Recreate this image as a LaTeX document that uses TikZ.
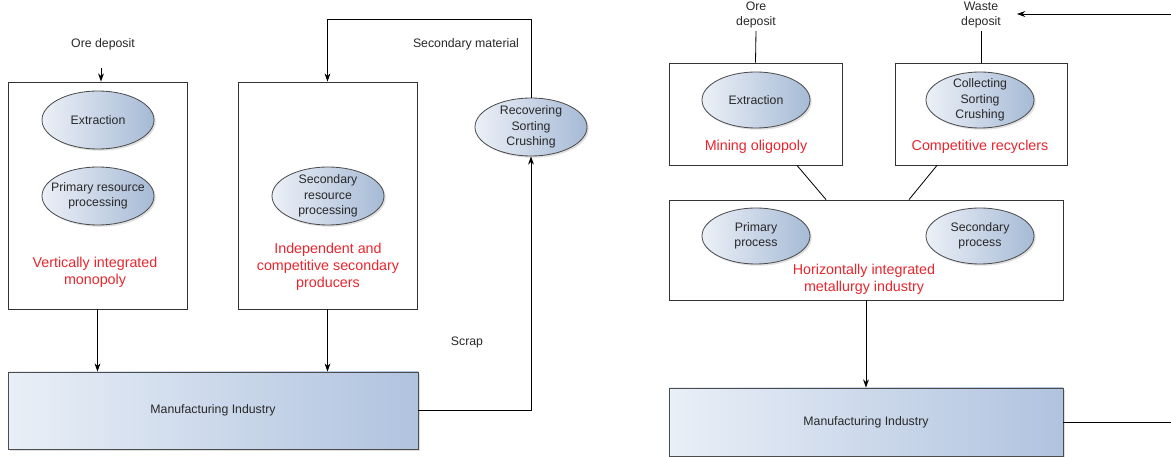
\documentclass[tikz,border=0pt]{standalone}
\usepackage{fontspec}
\setmainfont{Liberation Sans}
\usetikzlibrary{arrows.meta,shapes.geometric,shadows}
\definecolor{inktxt}{RGB}{40,40,40}
\definecolor{redtxt}{RGB}{232,38,46}
\definecolor{blobleft}{RGB}{236,240,247}
\definecolor{blobright}{RGB}{166,186,214}
\definecolor{indleft}{RGB}{233,239,247}
\definecolor{indright}{RGB}{176,195,223}
\begin{document}
\begin{tikzpicture}[x=0.03cm, y=-0.03cm, line width=0.7pt, text=inktxt, font=\fontsize{10.5}{13}\selectfont,
		frame/.style = {draw=black!80, fill=white},
		blob/.style = {ellipse, draw=black!70, left color=blobleft, right color=blobright, drop shadow={opacity=0.25, shadow xshift=1.5pt, shadow yshift=-1.5pt}, minimum width=3.36cm, minimum height=1.74cm, inner sep=0pt},
		sblob/.style = {blob, minimum width=3.24cm, minimum height=1.68cm},
		ind/.style = {draw=black!70, left color=indleft, right color=indright, drop shadow={opacity=0.25, shadow xshift=1.5pt, shadow yshift=-1.5pt}},
		grp/.style = {text=redtxt, font=\fontsize{12.2}{14.5}\selectfont, align=center},
		arr/.style = {-{Stealth[length=7pt, width=5pt]}}]
	\useasboundingbox (0,0) rectangle (1171,457);
	
	\node[frame, minimum width=5.37cm, minimum height=6.81cm] (vim) at (97.5,195.5) {};
	\node[frame, minimum width=5.37cm, minimum height=6.81cm] (sec) at (327.5,195.5) {};
	\node[ind, minimum width=12.3cm, minimum height=2.31cm] (manL) at (213,410.5) {Manufacturing Industry};
	
	\node[blob, label={[align=center]center:Extraction}] (ext) at (98,120) {};
	\node[blob, label={[align=center]center:Primary resource\\processing}] (prp) at (98,196) {};
	\node[blob, label={[align=center]center:Secondary\\resource\\processing}] (srp) at (328,196) {};
	\node[blob, label={[align=center]center:Recovering\\Sorting\\Crushing}] (rec) at (531,127) {};
	
	\node[grp] (vimtxt) at (95,272) {Vertically integrated\\monopoly};
	\node[grp] (sectxt) at (328,267) {Independent and\\competitive secondary\\producers};
	
	\node (oreL) at (103,44) {Ore deposit};
	\node (secmat) at (466,44) {Secondary material};
	\node (scrap) at (467,342) {Scrap};
	\coordinate (oreLin) at (101,68);
	\coordinate (loop) at (0,19);
	
	\draw[arr] (oreLin) -- (oreLin |- vim.north);
	\draw[arr] (rec.north) -- (rec.north |- loop) -| (sec.north);
	\draw[arr] (vim.south) -- (vim.south |- manL.north);
	\draw[arr] (sec.south) -- (sec.south |- manL.north);
	\draw[arr] (manL.east) -| (rec.south);
	
	\node[frame, minimum width=5.19cm, minimum height=3.06cm] (mine) at (755.5,114) {};
	\node[frame, minimum width=5.16cm, minimum height=3.06cm] (recy) at (981,114) {};
	\node[frame, minimum width=11.82cm, minimum height=3cm] (metal) at (866,250) {};
	\node[ind, minimum width=11.82cm, minimum height=2.04cm] (manR) at (866,422) {Manufacturing Industry};
	
	\node[sblob, label={[align=center]center:Extraction}] (extR) at (756,100) {};
	\node[sblob, label={[align=center]center:Collecting\\Sorting\\Crushing}] (col) at (980,100) {};
	\node[sblob, label={[align=center]center:Primary\\process}] (pp) at (756,236) {};
	\node[sblob, label={[align=center]center:Secondary\\process}] (sp) at (980,236) {};
	
	\node[grp] (minetxt) at (756,147) {Mining oligopoly};
	\node[grp] (recytxt) at (980,147) {Competitive recyclers};
	\node[grp] (metaltxt) at (864,279) {Horizontally integrated\\metallurgy industry};
	
	\node[align=center, inner sep=2pt] (oreR) at (756,15) {Ore\\deposit};
	\node[align=center, inner sep=2pt] (waste) at (981,15) {Waste\\deposit};
	\coordinate (wasteIn) at (1171,14);
	\coordinate (manOut) at (1171,422);
	
	\draw (oreR.south) -- (mine.north);
	\draw (waste.south) -- (recy.north);
	\draw[arr] (wasteIn) -- (1017,14);
	\draw ([xshift=1.245cm]mine.south) -- ([xshift=-1.2cm]metal.north);
	\draw ([xshift=-1.32cm]recy.south) -- ([xshift=1.29cm]metal.north);
	\draw[arr] (metal.south) -- (manR.north);
	\draw (manR.east) -- (manOut);
	
\end{tikzpicture}
\end{document}
